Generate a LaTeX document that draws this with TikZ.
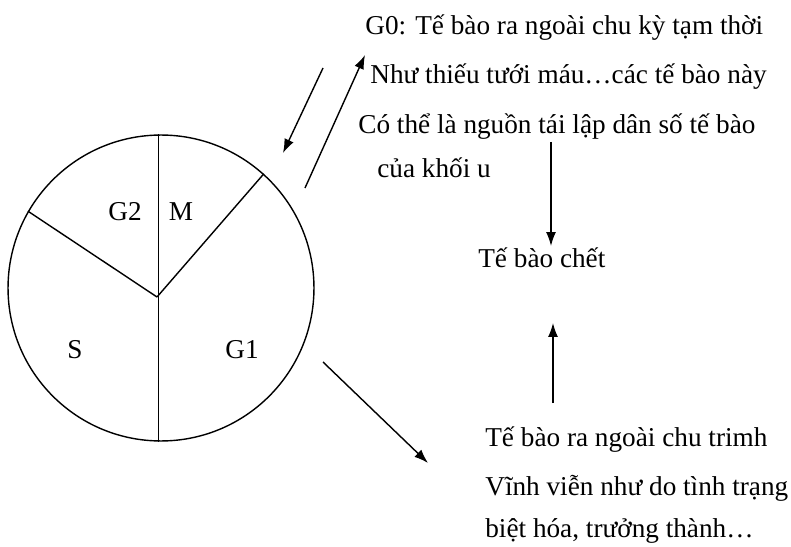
\documentclass[tikz,border=0pt]{standalone}
\usepackage{fontspec}
\setmainfont{Liberation Serif}
\usetikzlibrary{arrows.meta,positioning}

\begin{document}
\begin{tikzpicture}[x=0.02cm, y=-0.02cm,
    phase/.style={font=\fontsize{15.5}{18}\selectfont, inner sep=1pt},
    note/.style={anchor=west, inner sep=0pt, font=\fontsize{15.5}{18}\selectfont},
    cyclebox/.style={circle, draw, thick, minimum size=6.12cm, inner sep=0pt},
    spoke/.style={thick},
    flow/.style={-{Latex[length=2.8mm,width=2mm]}, thick}
]
\useasboundingbox (0,0) rectangle (791,547);

% vong chu ky
\node[cyclebox] (cycle) at (161,288) {};
\coordinate (hub) at (157,297);
\draw[spoke] (cycle.91) -- (cycle.269);
\draw[spoke] (hub) -- (cycle.48);
\draw[spoke] (hub) -- (cycle.150);

% cac pha
\node[phase] (g2) at (125,212) {G2};
\node[phase] (m)  at (181,212) {M};
\node[phase] (s)  at (75,350)  {S};
\node[phase] (g1) at (242,350) {G1};

% G0
\node[note] (g0a) at (365,28)  {G0: Tế bào ra ngoài chu kỳ tạm thời};
\node[note] (g0b) at (370,77)  {Như thiếu tưới máu…các tế bào này};
\node[note] (g0c) at (358,127) {Có thể là nguồn tái lập dân số tế bào};
\node[note] (g0d) at (377,168) {của khối u};

% te bao chet
\node[note] (dead) at (478,258) {Tế bào chết};

% ra ngoai vinh vien
\node[note] (outa) at (485,440) {Tế bào ra ngoài chu trimh};
\node[note] (outb) at (485,488) {Vĩnh viễn như do tình trạng};
\node[note] (outc) at (485,531) {biệt hóa, trưởng thành…};

% mui ten
\coordinate (backtail) at (323,68);
\coordinate (backhead) at (283,153);
\coordinate (intail) at (305,188);
\coordinate (inhead) at (365,55);
\coordinate (deadtop) at (551,142);
\coordinate (deadin) at (551,246);
\coordinate (uptail) at (553,403);
\coordinate (uphead) at (553,323);
\coordinate (exittail) at (323,362);
\coordinate (exithead) at (428,463);

\draw[flow] (backtail) -- (backhead);
\draw[flow] (intail) -- (inhead);
\draw[flow] (deadtop) -- (deadin);
\draw[flow] (uptail) -- (uphead);
\draw[flow] (exittail) -- (exithead);

\end{tikzpicture}
\end{document}
